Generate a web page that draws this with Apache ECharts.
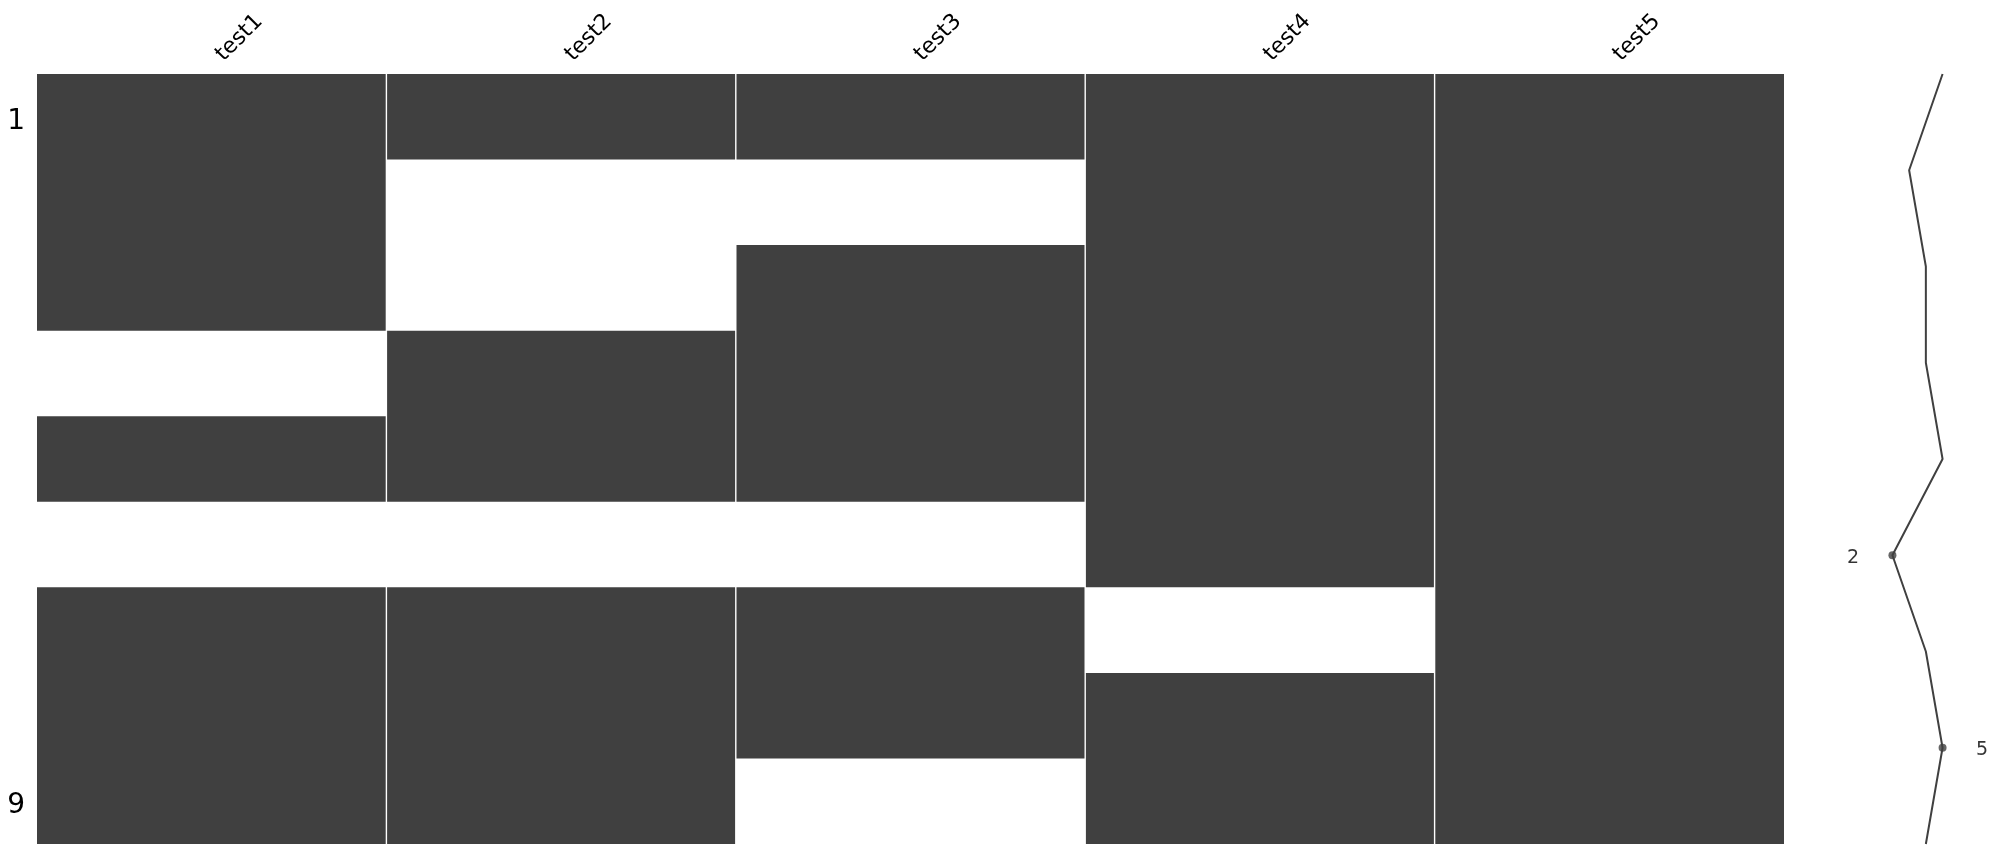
<!DOCTYPE html>
<html>
<head>
<meta charset="utf-8">
<script src="https://cdn.jsdelivr.net/npm/echarts@6/dist/echarts.min.js"></script>
<style>
html,body{margin:0;padding:0;background:#fff;}
#chart{width:1997px;height:854px;}
</style>
</head>
<body>
<div id="chart"></div>
<script>
// ---- data ----
const columns = ['test1', 'test2', 'test3', 'test4', 'test5'];
const rows = ['1', '2', '3', '4', '5', '6', '7', '8', '9'];
const shownRowTicks = ['1', '9'];
// 1 = value present, 0 = missing (row order top to bottom)
const test1 = [1, 1, 1, 0, 1, 0, 1, 1, 1];
const test2 = [1, 0, 0, 1, 1, 0, 1, 1, 1];
const test3 = [1, 0, 1, 1, 1, 0, 1, 1, 0];
const test4 = [1, 1, 1, 1, 1, 1, 0, 1, 1];
const test5 = [1, 1, 1, 1, 1, 1, 1, 1, 1];
// non-null count per row (sparkline)
const completeness = [5, 3, 4, 4, 5, 2, 4, 5, 4];

// ---- build runs of present cells ----
const presence = [test1, test2, test3, test4, test5];
const runs = [];
presence.forEach((col, c) => {
  let start = -1;
  for (let r = 0; r <= col.length; r++) {
    const on = r < col.length && col[r] === 1;
    if (on && start < 0) start = r;
    if (!on && start >= 0) { runs.push([c, start, r - 1]); start = -1; }
  }
});

const minVal = Math.min(...completeness);
const maxVal = Math.max(...completeness);
const minIdx = completeness.indexOf(minVal);
const maxIdx = completeness.lastIndexOf(maxVal);

const DARK = '#404040';
const FONT = 'DejaVu Sans';

const chart = echarts.init(document.getElementById('chart'), null, {renderer: 'canvas'});
chart.setOption({
  backgroundColor: '#ffffff',
  animation: false,
  textStyle: {fontFamily: FONT},
  grid: [
    {left: 37, right: 213, top: 74, bottom: 10},
    {left: 1859, width: 117, top: 74, bottom: 10}
  ],
  xAxis: [
    {
      gridIndex: 0, type: 'category', data: columns, position: 'top',
      boundaryGap: true,
      axisLine: {show: false}, axisTick: {show: false}, splitLine: {show: false},
      axisLabel: {
        rotate: -45, margin: 24, fontSize: 22, color: '#000', fontFamily: FONT,
        verticalAlign: 'top', lineHeight: 22,
        interval: 0
      }
    },
    {
      gridIndex: 1, type: 'value', min: minVal - 2, max: maxVal + 2, show: false
    }
  ],
  yAxis: [
    {
      gridIndex: 0, type: 'category', data: rows, inverse: true,
      axisLine: {show: false}, axisTick: {show: false}, splitLine: {show: false},
      axisLabel: {
        fontSize: 28, color: '#000', fontFamily: FONT, margin: 12,
        verticalAlign: 'top', lineHeight: 9,
        interval: (i, v) => shownRowTicks.indexOf(v) >= 0
      }
    },
    {
      gridIndex: 1, type: 'value', min: 0, max: rows.length - 1, inverse: true, show: false
    }
  ],
  series: [
    {
      type: 'custom', xAxisIndex: 0, yAxisIndex: 0,
      encode: {x: 0, y: [1, 2]},
      data: runs,
      renderItem: function (params, api) {
        const c = api.value(0), s = api.value(1), e = api.value(2);
        const p0 = api.coord([c, s]);
        const p1 = api.coord([c, e]);
        const sz = api.size([1, 1]);
        const gap = 0.7;
        const x0 = p0[0] - sz[0] / 2 + (c > 0 ? gap : 0);
        const x1 = p0[0] + sz[0] / 2 - (c < columns.length - 1 ? gap : 0);
        const y0 = p0[1] - sz[1] / 2;
        const y1 = p1[1] + sz[1] / 2;
        return {
          type: 'rect',
          shape: {x: x0, y: y0, width: x1 - x0, height: y1 - y0},
          style: {fill: DARK}
        };
      }
    },
    {
      type: 'line', xAxisIndex: 1, yAxisIndex: 1,
      data: completeness.map((v, i) => [v, i]),
      showSymbol: false, symbol: 'none',
      lineStyle: {color: DARK, width: 2},
      silent: true
    },
    {
      type: 'scatter', xAxisIndex: 1, yAxisIndex: 1,
      data: [[minVal, minIdx], [maxVal, maxIdx]],
      symbol: 'circle', symbolSize: 8,
      itemStyle: {color: DARK},
      silent: true
    },
    {
      type: 'scatter', xAxisIndex: 1, yAxisIndex: 1,
      symbolSize: 0,
      data: [
        {value: [minVal - 2, minIdx], label: {position: 'left', formatter: String(minVal)}},
        {value: [maxVal + 2, maxIdx], label: {position: 'right', formatter: String(maxVal)}}
      ],
      label: {show: true, distance: 0, fontSize: 19, color: '#000', fontFamily: FONT,
              verticalAlign: 'top', lineHeight: 5},
      silent: true
    }
  ]
});
</script>
</body>
</html>
